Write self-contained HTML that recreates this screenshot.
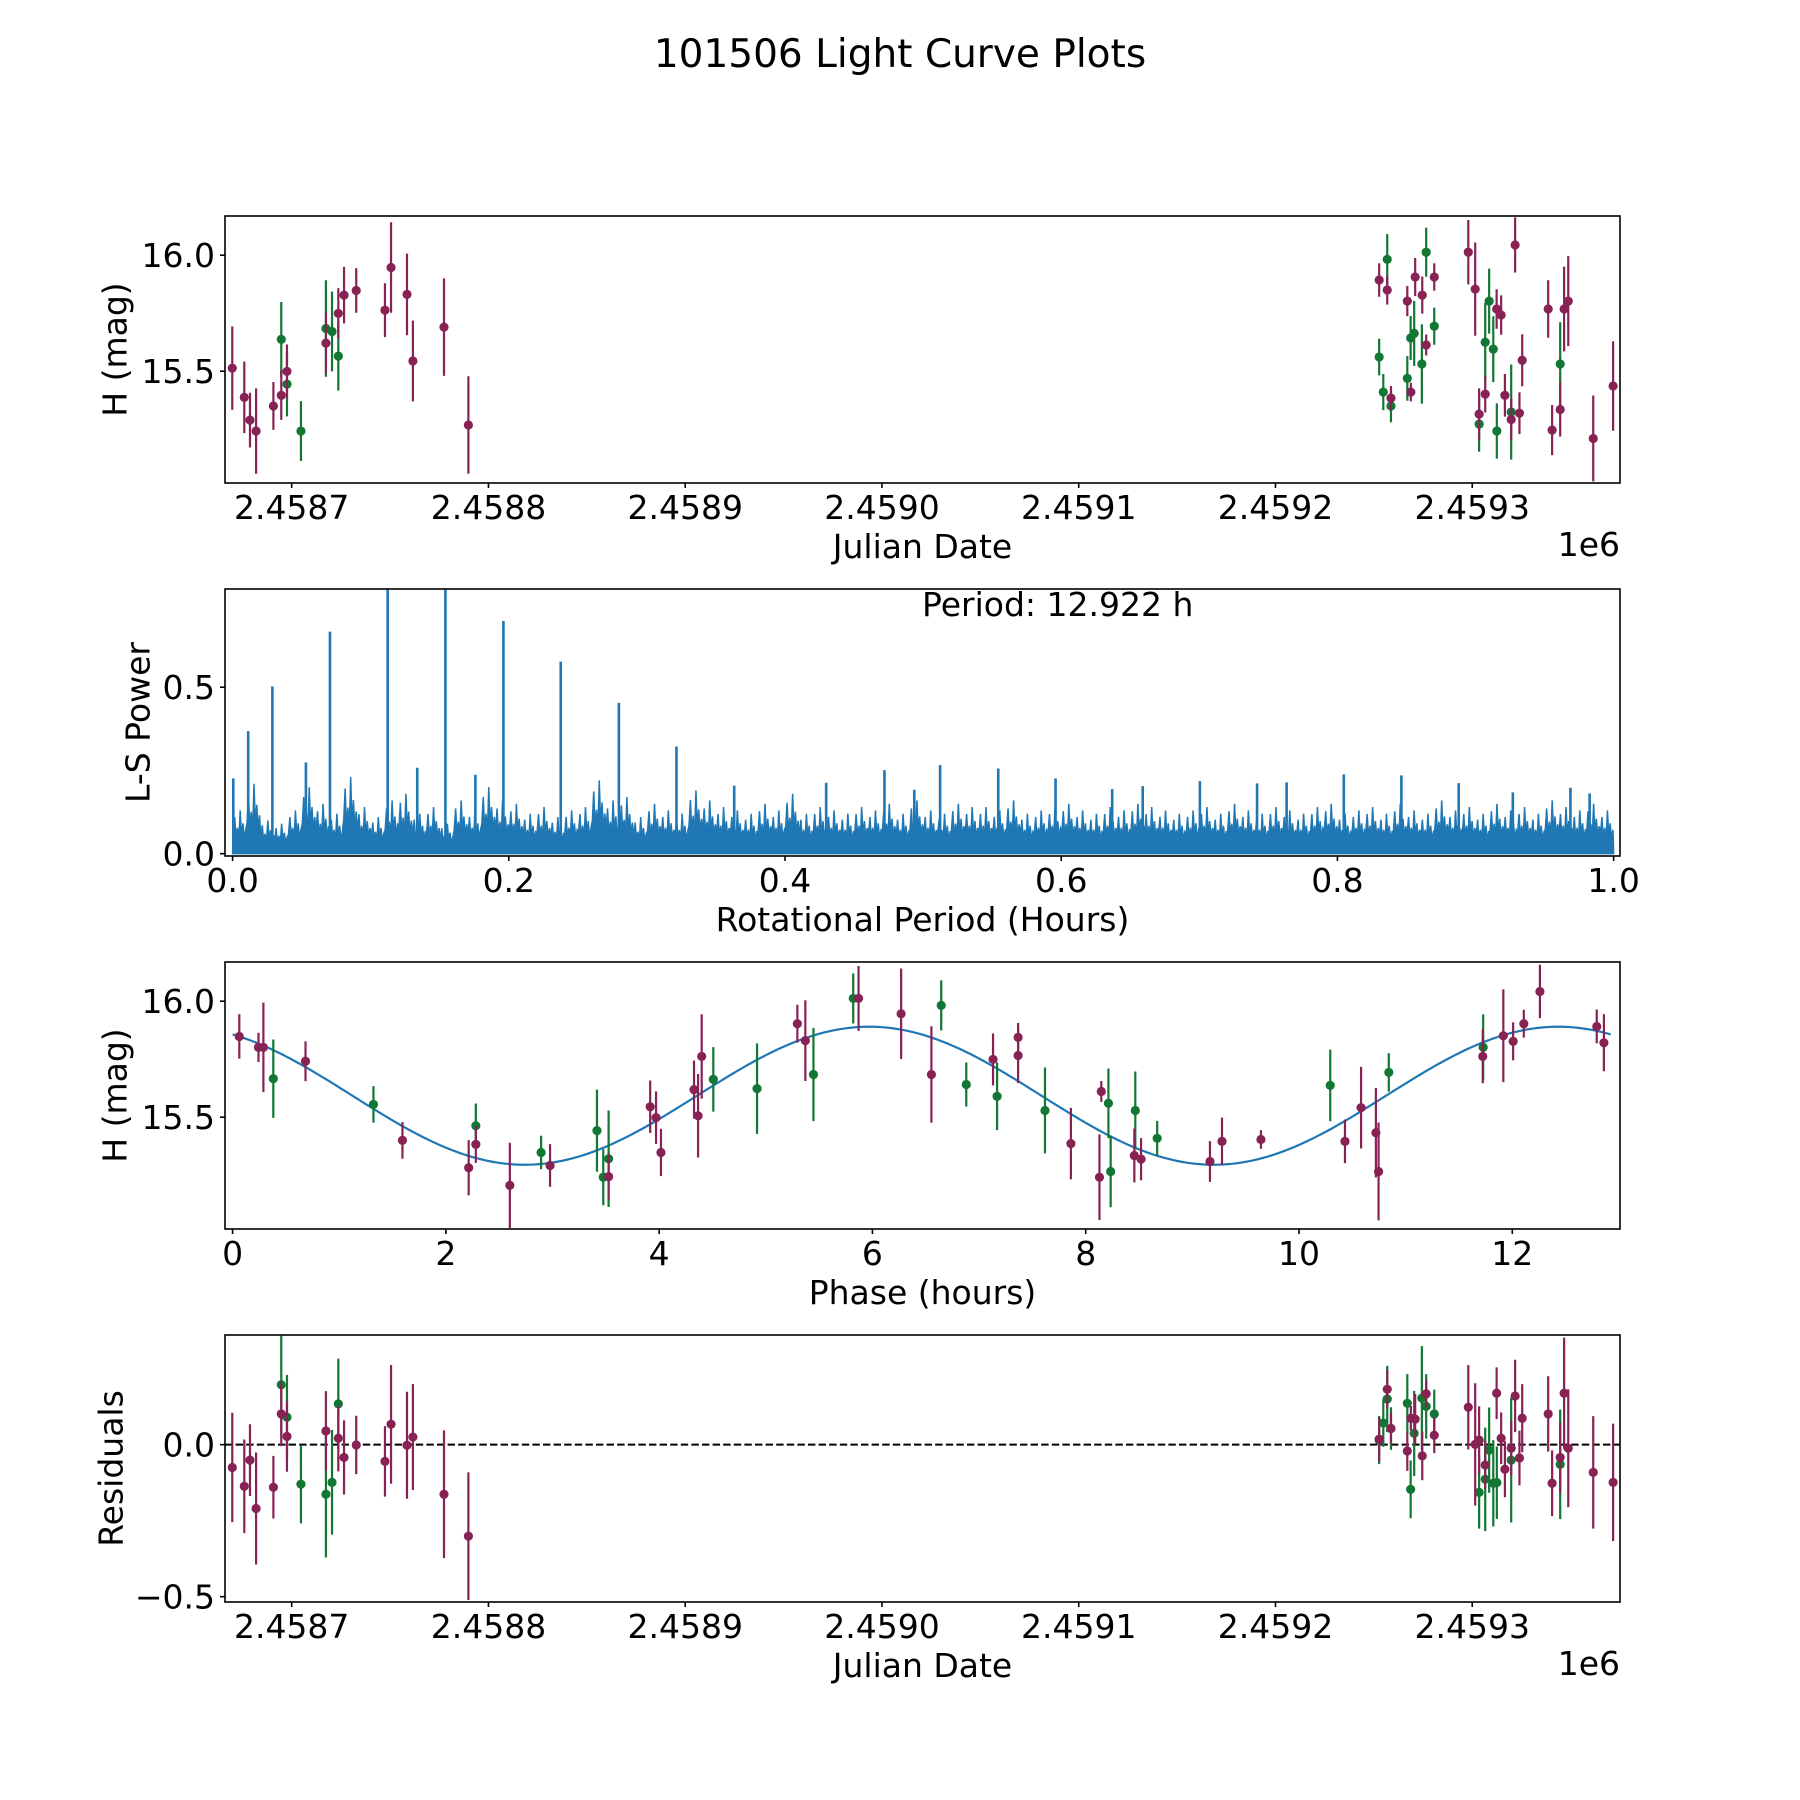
<!DOCTYPE html>
<html><head><meta charset="utf-8"><title>101506 Light Curve Plots</title>
<style>
html,body{margin:0;padding:0;background:#fff;}
svg{display:block;font-family:"DejaVu Sans","Liberation Sans",sans-serif;}
</style></head>
<body>
<svg id="fig" xmlns="http://www.w3.org/2000/svg" width="1800" height="1800" viewBox="0 0 1800 1800">
<rect x="0" y="0" width="1800" height="1800" fill="#fff"/>
<text x="900" y="67" font-size="39" text-anchor="middle" fill="#000">101506 Light Curve Plots</text>
</svg>
<script>
// ---------- Panel 1 / 4 data (Julian date light curve + residuals) ----------
const lcBand = ['R','R','R','R','R','G','R','R','G','G','G','R','G','R','G','R','R','R','R','R','R','R','R',
 'R','G','R','G','G','R','G','R','G','G','G','R','R','R','G','R','G','R','G','R','R','G','G','G','R','R','R','R','R','G','G','R','G','R','R','R','R','G','R','R','R','R','R','R'];
const lcJD = [2458669.8,2458675.9,2458678.8,2458681.9,2458690.7,2458694.7,2458694.7,2458697.6,2458697.6,2458704.7,2458717.4,2458717.4,2458720.5,2458723.7,2458723.7,2458726.6,2458732.8,2458747.4,2458750.5,2458758.6,2458761.6,2458777.4,2458789.8,
 2459252.7,2459256.8,2459256.8,2459252.7,2459254.8,2459258.7,2459258.7,2459267.0,2459268.7,2459270.5,2459267.0,2459268.8,2459271.0,2459274.6,2459274.4,2459276.6,2459276.6,2459280.7,2459280.7,2459298.0,2459301.5,2459308.6,2459306.6,2459310.7,2459312.4,2459314.7,2459321.8,2459306.6,2459303.5,2459303.5,2459312.5,2459316.6,2459319.8,2459319.8,2459324.0,2459325.4,2459338.6,2459344.7,2459344.7,2459340.6,2459346.7,2459348.8,2459361.5,2459371.6];
const lcMag = [15.513,15.387,15.289,15.242,15.350,15.637,15.396,15.499,15.444,15.242,15.684,15.621,15.671,15.749,15.565,15.828,15.848,15.763,15.947,15.831,15.544,15.690,15.268,
 15.893,15.982,15.850,15.561,15.410,15.384,15.350,15.802,15.643,15.663,15.469,15.410,15.906,15.828,15.531,15.613,16.013,15.906,15.694,16.013,15.854,15.802,15.625,15.595,15.768,15.742,16.044,15.401,15.315,15.272,15.242,15.396,15.324,15.292,15.319,15.547,15.768,15.531,15.335,15.246,15.768,15.802,15.210,15.436];
const lcErr = [0.18,0.154,0.118,0.184,0.103,0.161,0.106,0.116,0.139,0.129,0.208,0.131,0.172,0.109,0.149,0.122,0.096,0.116,0.195,0.176,0.174,0.210,0.210,
 0.072,0.109,0.063,0.079,0.078,0.052,0.070,0.065,0.095,0.140,0.096,0.040,0.082,0.080,0.171,0.045,0.106,0.059,0.080,0.139,0.201,0.140,0.170,0.142,0.085,0.085,0.119,0.079,0.111,0.119,0.119,0.092,0.205,0.090,0.090,0.112,0.124,0.180,0.117,0.108,0.183,0.194,0.185,0.193];
const lcResid = [-0.075,-0.137,-0.051,-0.210,-0.140,0.197,0.101,0.027,0.090,-0.130,-0.163,0.045,-0.124,0.021,0.134,-0.042,-0.001,-0.055,0.067,-0.002,0.025,-0.163,-0.301,
 0.018,0.150,0.182,0.015,0.071,0.053,0.053,-0.021,-0.147,0.037,0.136,0.087,0.084,-0.037,0.153,0.167,0.126,0.031,0.101,0.123,0.001,-0.018,-0.114,-0.127,0.169,0.021,0.160,-0.067,0.015,-0.157,-0.125,-0.081,-0.051,-0.012,-0.044,0.087,0.101,-0.065,-0.042,-0.127,0.169,-0.012,-0.091,-0.124];
const jdTicks = [2458700,2458800,2458900,2459000,2459100,2459200,2459300];
const jdTickLabels = ['2.4587','2.4588','2.4589','2.4590','2.4591','2.4592','2.4593'];
const magTicks = [15.5,16.0];
const magTickLabels = ['15.5','16.0'];
const residTicks = [-0.5,0.0];
const residTickLabels = ['\u22120.5','0.0'];

// ---------- Panel 2 data (Lomb-Scargle periodogram) ----------
const lsSpikePeriod = [0.0005,0.0113,0.0288,0.0531,0.0705,0.1123,0.1337,0.1541,0.1758,0.1961,0.2376,0.2797,0.3214,0.3632,0.4298,0.472,0.4936,0.5123,0.5544,0.5959,0.6369,0.659,0.7004,0.7418,0.7632,0.8046,0.8463,0.8878,0.927,0.9687,0.9826];
const lsSpikePower = [0.226,0.368,0.502,0.274,0.667,0.95,0.258,0.92,0.237,0.699,0.577,0.453,0.322,0.204,0.213,0.251,0.192,0.266,0.256,0.226,0.194,0.203,0.218,0.211,0.214,0.238,0.235,0.212,0.184,0.198,0.181];
const lsNoiseTop = [0.13,0.21,0.10,0.09,0.13,0.20,0.15,0.12,0.23,0.14,0.11,0.16,0.18,0.12,0.14,0.09,0.16,0.13,0.20,0.16,
 0.15,0.12,0.14,0.11,0.13,0.14,0.22,0.16,0.17,0.11,0.15,0.13,0.12,0.19,0.16,0.14,0.13,0.12,0.15,0.13,
 0.18,0.12,0.14,0.13,0.12,0.14,0.13,0.15,0.12,0.16,0.13,0.12,0.15,0.14,0.14,0.13,0.16,0.12,0.13,0.14,
 0.15,0.13,0.12,0.14,0.13,0.15,0.14,0.13,0.12,0.13,0.14,0.12,0.15,0.13,0.12,0.14,0.13,0.12,0.14,0.15,
 0.12,0.13,0.14,0.12,0.15,0.13,0.12,0.16,0.13,0.14,0.12,0.15,0.13,0.14,0.12,0.16,0.14,0.13,0.15,0.13];
const lsTicks = [0.0,0.2,0.4,0.6,0.8,1.0];
const lsTickLabels = ['0.0','0.2','0.4','0.6','0.8','1.0'];
const lsYTicks = [0.0,0.5];
const lsYTickLabels = ['0.0','0.5'];

// ---------- Panel 3 data (phase-folded) ----------
const phBand = ['R','R','R','G','R','G','R','R','R','G','R','G','R','G','G','R','G','R','R','R','R','R','R','G','G','R','R','G','G','R','R',
 'R','G','G','R','G','R','R','G','R','R','R','G','G','G','R','R','G','R','R','R','G','R','R','R','R','G','G','R','R','R','R','R','R','R'];
const phPhase = [0.063,0.243,0.289,0.382,0.684,1.321,1.593,2.214,2.281,2.281,2.600,2.893,2.977,3.417,3.476,3.526,3.526,3.916,3.971,4.017,4.327,4.365,4.399,4.508,4.918,5.296,5.371,5.447,5.820,5.870,6.269,
 6.553,6.645,6.880,7.131,7.169,7.366,7.366,7.618,7.861,8.129,8.146,8.213,8.234,8.465,8.456,8.519,8.670,9.165,9.278,9.643,10.293,10.431,10.582,10.721,10.746,10.842,11.727,11.723,11.916,12.008,12.108,12.259,12.792,12.859];
const phMag = [15.848,15.801,15.801,15.666,15.741,15.555,15.400,15.282,15.383,15.463,15.206,15.348,15.292,15.442,15.241,15.244,15.321,15.545,15.498,15.348,15.619,15.506,15.762,15.663,15.623,15.903,15.830,15.684,16.012,16.012,15.946,
 15.684,15.982,15.641,15.749,15.590,15.844,15.766,15.529,15.386,15.241,15.611,15.560,15.266,15.529,15.335,15.319,15.409,15.309,15.396,15.404,15.637,15.396,15.541,15.433,15.266,15.693,15.801,15.762,15.851,15.827,15.903,16.042,15.891,15.821];
const phErr = [0.096,0.063,0.193,0.169,0.086,0.079,0.079,0.119,0.08,0.096,0.184,0.072,0.092,0.177,0.121,0.10,0.208,0.113,0.113,0.102,0.125,0.180,0.182,0.139,0.195,0.082,0.174,0.201,0.108,0.140,0.195,
 0.208,0.108,0.095,0.112,0.146,0.062,0.119,0.185,0.154,0.185,0.045,0.150,0.154,0.168,0.116,0.091,0.075,0.088,0.102,0.040,0.154,0.094,0.176,0.193,0.211,0.083,0.142,0.116,0.200,0.082,0.060,0.115,0.073,0.123];
const fitMean = [15.5925];
const fitAmp = [0.2975];
const fitPeakPhase = [5.97];
const fitPeriod = [12.922];
const phTicks = [0,2,4,6,8,10,12];
const phTickLabels = ['0','2','4','6','8','10','12'];

// ---------- rendering ----------
const NS = 'http://www.w3.org/2000/svg';
const svg = document.getElementById('fig');
const COL = {R:'#882255', G:'#117733'};
const AX_L = 225, AX_R = 1620;
function el(tag, attrs, parent){
  const e = document.createElementNS(NS, tag);
  for (const k in attrs) e.setAttribute(k, attrs[k]);
  (parent||svg).appendChild(e);
  return e;
}
function linScale(d0,d1,r0,r1){ return v => r0 + (v-d0)/(d1-d0)*(r1-r0); }

function makeAxes(name, top, bottom, xd, yd){
  const g = el('g', {});
  
  
  const cp = el('clipPath', {id:'clip-'+name}, g);
  el('rect', {x:AX_L, y:top, width:AX_R-AX_L, height:bottom-top}, cp);
  const plot = el('g', {'clip-path':'url(#clip-'+name+')'}, g);
  
  
  return {g, plot, top, bottom, x:linScale(xd[0],xd[1],AX_L,AX_R), y:linScale(yd[0],yd[1],bottom,top)};
}
function frame(ax){
  const f = el('rect', {x:AX_L, y:ax.top, width:AX_R-AX_L, height:ax.bottom-ax.top, fill:'none', stroke:'#000', 'stroke-width':1.6}, ax.g);
  
  
}
function xTicks(ax, vals, labels, name){
  const g = el('g', {}, ax.g);
  
  
  vals.forEach((v,i)=>{
    const x = ax.x(v);
    el('line', {x1:x, x2:x, y1:ax.bottom, y2:ax.bottom+5, stroke:'#000', 'stroke-width':1.6}, g);
    const t = el('text', {x:x, y:ax.bottom+36, 'font-size':33, 'text-anchor':'middle', fill:'#000'}, g);
    t.textContent = labels[i];
    
    
  });
}
function yTicks(ax, vals, labels, name){
  const g = el('g', {}, ax.g);
  
  
  vals.forEach((v,i)=>{
    const y = ax.y(v);
    el('line', {x1:AX_L-5, x2:AX_L, y1:y, y2:y, stroke:'#000', 'stroke-width':1.6}, g);
    const t = el('text', {x:AX_L-10, y:y+12, 'font-size':33, 'text-anchor':'end', fill:'#000'}, g);
    t.textContent = labels[i];
    
    
  });
}
function xLabel(ax, txt, name){
  const t = el('text', {x:(AX_L+AX_R)/2, y:ax.bottom+75, 'font-size':33, 'text-anchor':'middle', fill:'#000'}, ax.g);
  t.textContent = txt;
  
  
}
function yLabel(ax, txt, cx, name){
  const cy = (ax.top+ax.bottom)/2;
  const t = el('text', {x:cx, y:cy, 'font-size':33, 'text-anchor':'middle', 'dominant-baseline':'central', transform:'rotate(-90 '+cx+' '+cy+')', fill:'#000'}, ax.g);
  t.textContent = txt;
  
  
}
function offsetText(ax){
  const t = el('text', {x:AX_R, y:ax.bottom+73, 'font-size':33, 'text-anchor':'end', fill:'#000'}, ax.g);
  t.textContent = '1e6';
  
  
}
function errPoints(ax, xs, ys, es, bands, name){
  const order = [];
  xs.forEach((_,i)=>{ if (bands[i]==='G') order.push(i); });
  xs.forEach((_,i)=>{ if (bands[i]==='R') order.push(i); });
  order.forEach(i=>{
    const g = el('g', {}, ax.plot);
    
    
    const x = ax.x(xs[i]);
    el('line', {x1:x, x2:x, y1:ax.y(ys[i]-es[i]), y2:ax.y(ys[i]+es[i]), stroke:COL[bands[i]], 'stroke-width':2.2}, g);
    el('circle', {cx:x, cy:ax.y(ys[i]), r:4.6, fill:COL[bands[i]]}, g);
  });
}

// Panel 1
const ax1 = makeAxes('light-curve-panel', 216, 483, [2458666.1, 2459375.1], [15.018, 16.169]);
errPoints(ax1, lcJD, lcMag, lcErr, lcBand, 'data-point');
frame(ax1);
xTicks(ax1, jdTicks, jdTickLabels, 'x-ticks');
yTicks(ax1, magTicks, magTickLabels, 'y-ticks');
xLabel(ax1, 'Julian Date', 'x-axis-title');
yLabel(ax1, 'H (mag)', 115, 'y-axis-title');
offsetText(ax1);

// Panel 2
const ax2 = makeAxes('periodogram-panel', 589, 856, [-0.0055, 1.0046], [-0.007, 0.795]);
(function(){
  const y0 = ax2.y(0);
  let d = 'M' + ax2.x(0) + ',' + y0;
  const mult = [0.45,0.85,0.35,0.6,0.3,1.0,0.4,0.7,0.33,0.55];
  lsNoiseTop.forEach((t,i)=>{
    mult.forEach((m,k)=>{ d += ' L' + ax2.x(i*0.01+(k+0.5)*0.001).toFixed(2) + ',' + ax2.y(t*m).toFixed(2); });
  });
  d += ' L' + ax2.x(1.0) + ',' + y0 + ' Z';
  const p = el('path', {d:d, fill:'#1f77b4', stroke:'#1f77b4', 'stroke-width':1.5, 'stroke-linejoin':'miter'}, ax2.plot);
  
  
  lsSpikePeriod.forEach((pv,i)=>{
    const x = ax2.x(pv);
    const l = el('line', {x1:x, x2:x, y1:y0, y2:ax2.y(lsSpikePower[i]), stroke:'#1f77b4', 'stroke-width':2.6}, ax2.plot);
    
    
  });
})();
frame(ax2);
xTicks(ax2, lsTicks, lsTickLabels, 'x-ticks');
yTicks(ax2, lsYTicks, lsYTickLabels, 'y-ticks');
xLabel(ax2, 'Rotational Period (Hours)', 'x-axis-title');
yLabel(ax2, 'L-S Power', 138, 'y-axis-title');
(function(){
  const t = el('text', {x:922, y:616, 'font-size':33, fill:'#000'}, ax2.g);
  t.textContent = 'Period: 12.922 h';
  
  
})();

// Panel 3
const ax3 = makeAxes('phase-panel', 962, 1229, [-0.071, 13.01], [15.018, 16.169]);
(function(){
  let d = '';
  const n = 400, p0 = 0.0, p1 = fitPeriod[0];
  for (let k=0;k<=n;k++){
    const ph = p0 + (p1-p0)*k/n;
    const m = fitMean[0] + fitAmp[0]*Math.cos(2*Math.PI*2*(ph-fitPeakPhase[0])/fitPeriod[0]);
    d += (k?' L':'M') + ax3.x(ph).toFixed(2) + ',' + ax3.y(m).toFixed(2);
  }
  const c = el('path', {d:d, fill:'none', stroke:'#1f77b4', 'stroke-width':2.2}, ax3.plot);
  
  
})();
errPoints(ax3, phPhase, phMag, phErr, phBand, 'phase-point');
frame(ax3);
xTicks(ax3, phTicks, phTickLabels, 'x-ticks');
yTicks(ax3, magTicks, magTickLabels, 'y-ticks');
xLabel(ax3, 'Phase (hours)', 'x-axis-title');
yLabel(ax3, 'H (mag)', 115, 'y-axis-title');

// Panel 4
const ax4 = makeAxes('residuals-panel', 1335, 1602, [2458666.1, 2459375.1], [-0.5175, 0.3606]);
(function(){
  const y = ax4.y(0);
  const l = el('line', {x1:AX_L, x2:AX_R, y1:y, y2:y, stroke:'#000', 'stroke-width':2, 'stroke-dasharray':'7.4,3.2'}, ax4.plot);
  
  
})();
errPoints(ax4, lcJD, lcResid, lcErr, lcBand, 'residual-point');
frame(ax4);
xTicks(ax4, jdTicks, jdTickLabels, 'x-ticks');
yTicks(ax4, residTicks, residTickLabels, 'y-ticks');
xLabel(ax4, 'Julian Date', 'x-axis-title');
yLabel(ax4, 'Residuals', 111, 'y-axis-title');
offsetText(ax4);
</script>
</body></html>
